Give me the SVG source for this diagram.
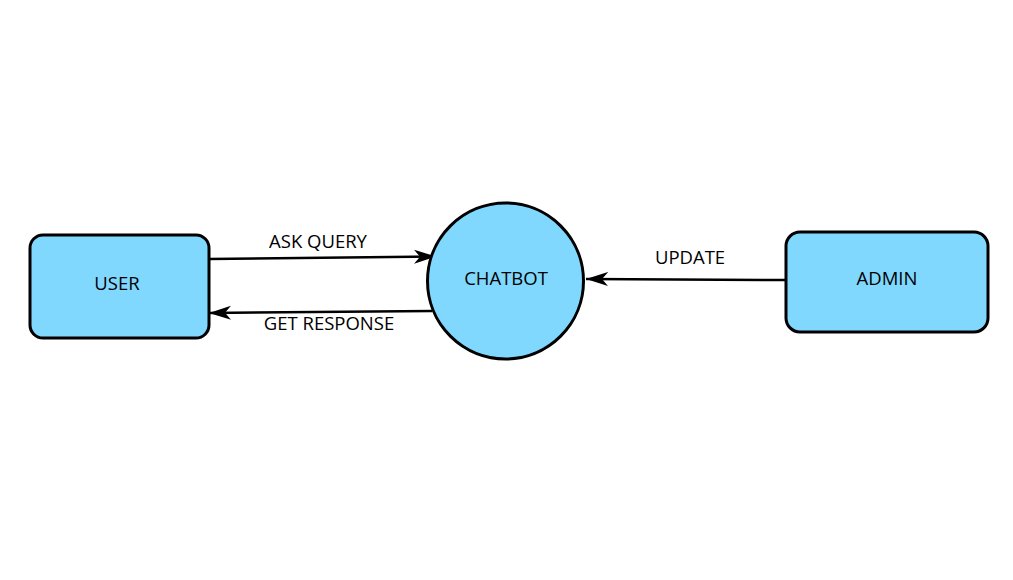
<svg xmlns="http://www.w3.org/2000/svg" width="1013" height="580" viewBox="0 0 1013 580">
<defs>
<style>
.node{fill:#80D8FF;stroke:#000;stroke-width:3}
.lbl{font-family:"Open Sans","Noto Sans",sans-serif;font-size:18.5px;fill:#000}
.edge{stroke:#000;stroke-width:2.5;fill:none}
</style>
<marker id="ah" markerWidth="24" markerHeight="16" viewBox="0 0 24 16" refX="22" refY="8" orient="auto" markerUnits="userSpaceOnUse">
<path d="M0,1 L22,8 L0,15 L6,8 Z" fill="#000"/>
</marker>
</defs>
<rect width="1013" height="580" fill="#fff"/>
<g id="connectors">
<line class="edge" x1="209" y1="259" x2="436" y2="256.5" marker-end="url(#ah)"/>
<line class="edge" x1="432" y1="311" x2="209" y2="313" marker-end="url(#ah)"/>
<line class="edge" x1="786" y1="280" x2="586" y2="279" marker-end="url(#ah)"/>
<text class="lbl" x="318" y="248" text-anchor="middle">ASK QUERY</text>
<text class="lbl" x="329" y="330" text-anchor="middle">GET RESPONSE</text>
<text class="lbl" x="690" y="264" text-anchor="middle">UPDATE</text>
</g>
<g id="user">
<rect class="node" x="30" y="235" width="179" height="103" rx="13"/>
<text class="lbl" x="117" y="290" text-anchor="middle">USER</text>
</g>
<g id="chatbot">
<circle class="node" cx="505.5" cy="281" r="78"/>
<text class="lbl" x="506" y="285" text-anchor="middle">CHATBOT</text>
</g>
<g id="admin">
<rect class="node" x="786" y="232" width="202" height="100" rx="14"/>
<text class="lbl" x="887" y="285" text-anchor="middle">ADMIN</text>
</g>
</svg>
